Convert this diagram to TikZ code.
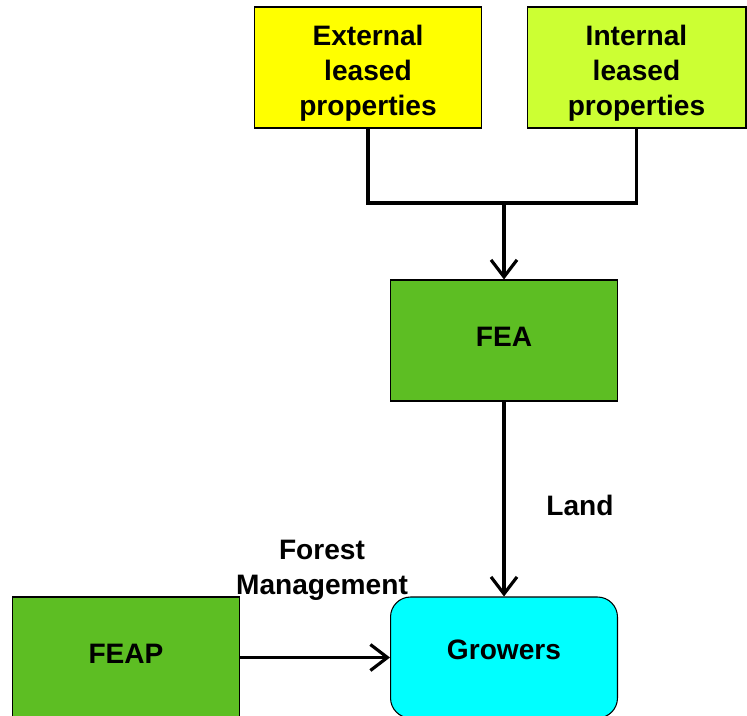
\documentclass[tikz,border=0pt]{standalone}
\usepackage{fontspec}
\setmainfont{Liberation Sans}
\usetikzlibrary{arrows.meta, positioning}
\definecolor{leaseyellow}{HTML}{FFFF00}
\definecolor{leaselime}{HTML}{CCFF33}
\definecolor{feagreen}{HTML}{5DBE23}
\definecolor{growcyan}{HTML}{00FFFF}
\tikzset{
  box/.style={draw=black, line width=0.6pt, minimum width=4.54cm, minimum height=2.42cm,
    align=center, inner sep=0pt, font=\fontsize{16}{20}\selectfont\bfseries},
  flow/.style={line width=1.8pt, -{Straight Barb[length=0.34cm, width=0.52cm, line width=1.8pt]}},
  lbl/.style={font=\fontsize{16}{20}\selectfont\bfseries, align=center}
}
\begin{document}
\begin{tikzpicture}[x=0.02cm, y=-0.02cm]
\useasboundingbox (0,0) rectangle (747,716);
\clip (0,0) rectangle (747,716);
\node[box, fill=leaseyellow, text height=58.5pt] at (368,67.5) (ext) {External\\leased\\properties};
\node[box, fill=leaselime, text height=58.5pt, minimum width=4.38cm] at (636.5,67.5) (int) {Internal\\leased\\properties};
\node[box, fill=feagreen, text depth=4pt] at (504,340.5) (fea) {FEA};
\node[box, fill=growcyan, rounded corners=0.4cm, text depth=8.5pt] at (504,657.5) (grow) {Growers};
\node[box, fill=feagreen, text depth=4pt] at (126,657.5) (feap) {FEAP};
\coordinate (join) at (504,203);
\draw[line width=1.8pt] (ext.south) |- (join);
\draw[line width=1.8pt] (int.south) |- (join);
\draw[flow] (join) to (fea.north);
\draw[flow] (fea) to node [lbl, right=0.7cm, yshift=-0.12cm]{Land} (grow);
\draw[flow] (feap) to node [lbl, above=1.05cm, xshift=0.14cm, yshift=-0.06cm]{Forest\\Management} (grow);
\end{tikzpicture}
\end{document}
